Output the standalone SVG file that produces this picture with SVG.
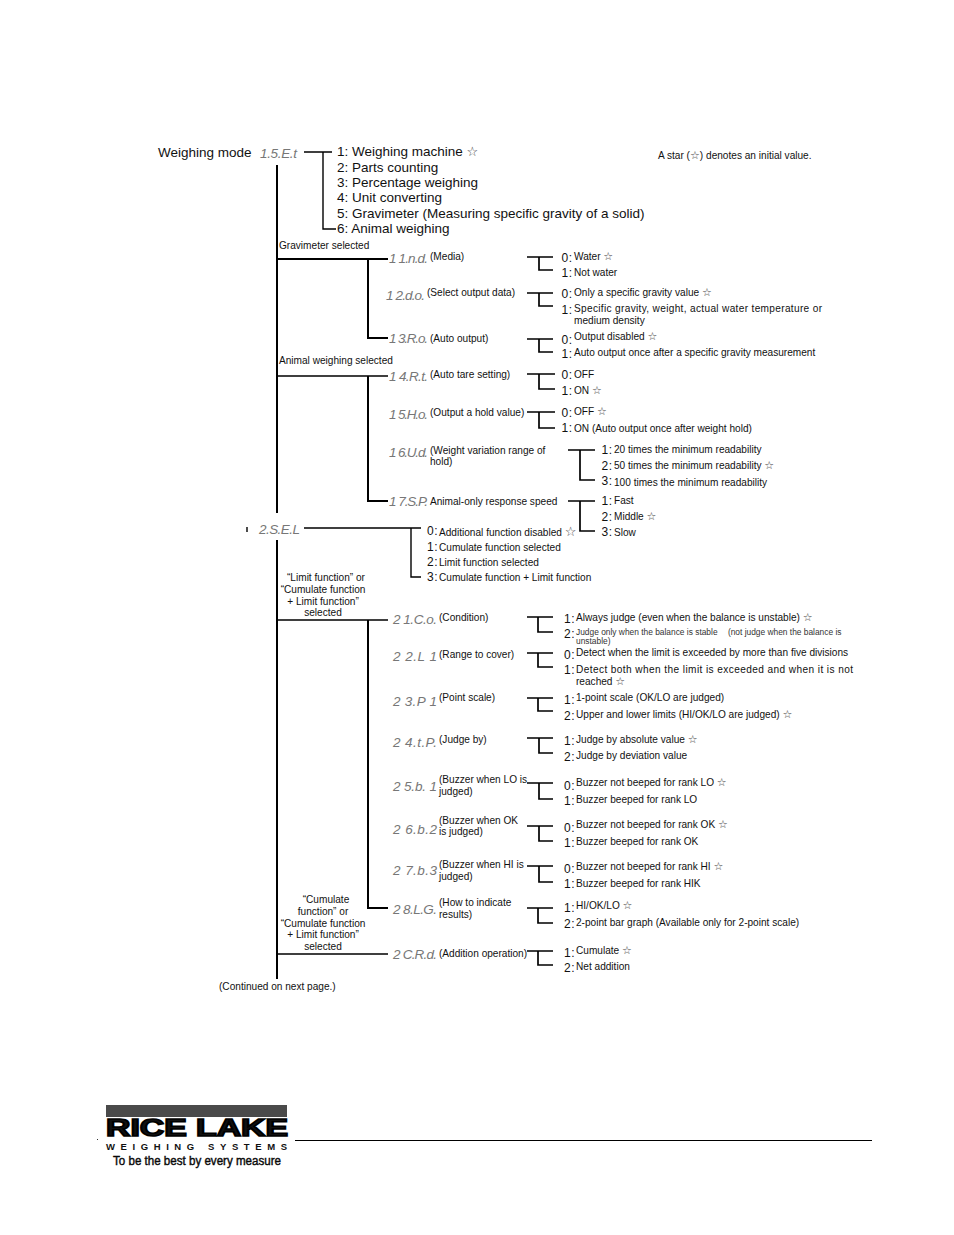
<svg xmlns="http://www.w3.org/2000/svg" width="954" height="1235" viewBox="0 0 954 1235">
<style>
text{font-family:"Liberation Sans",Arial,sans-serif;fill:#111}
.big{font-size:13.5px}
.t{font-size:10.1px}
.s{font-size:8.4px;fill:#333}
.n{font-size:12px;letter-spacing:.5px}
.c{font-family:"Liberation Sans",sans-serif;font-size:13.5px;font-style:italic;fill:#777}
.st{font-family:"DejaVu Sans",sans-serif;fill:#444;font-size:11px}
.w{fill:none;stroke:#000;stroke-width:1.4}
.m{fill:none;stroke:#000;stroke-width:2}
.b{fill:none;stroke:#000;stroke-width:1.7}
</style>
<rect width="954" height="1235" fill="#fff"/>
<g id="connectors">
<path class="m" d="M277 165V513M277 540V979M278 259H388M368 259V338H388M368 376V501H388M368 620V908H388"/>
<path class="w" d="M304 152H332M323 152V229H336M304 528H421M411 528V577H421M277 954H388M277 376H388M277 620H388M247 527V532"/>
<path class="b" d="M527 257H553M539 257V270H553M527 293H553M539 293V306H553M527 339H553M539 339V352H553M527 374H555M539 374V389H555M527 412H555M539 412V428H555M568 450H595M580 450V480H595M568 501H595M580 501V531H595"/>
<path class="b" d="M527 617H553M538 617V632H553M527 653H553M538 653V667H553M527 698H553M538 698V711H553M527 738H553M539 738V753H553M527 783H553M539 783V799H553M527 826H553M539 826V841H553M527 866H553M539 866V882H553M527 908H553M538 908V923H553M527 951H553M538 951V965H553"/>
</g>
<g id="mode"><text class="big" x="158" y="157">Weighing mode</text><text class="c" x="260" y="158" textLength="37">1.5.E.t</text></g>
<g id="mode-options">
<text class="big" x="337" y="156">1: Weighing machine <tspan class="st" style="font-size:13px">☆</tspan></text>
<text class="big" x="337" y="172">2: Parts counting</text>
<text class="big" x="337" y="187">3: Percentage weighing</text>
<text class="big" x="337" y="202">4: Unit converting</text>
<text class="big" x="337" y="218">5: Gravimeter (Measuring specific gravity of a solid)</text>
<text class="big" x="337" y="233">6: Animal weighing</text>
</g>
<g id="note"><text class="t" x="658" y="159">A star (<tspan class="st">☆</tspan>) denotes an initial value.</text></g>
<g id="branch-labels">
<text class="t" x="279" y="249">Gravimeter selected</text>
<text class="t" x="279" y="364">Animal weighing selected</text>
<g text-anchor="middle"><text class="t" x="326" y="581">“Limit function” or</text><text class="t" x="323" y="593">“Cumulate function</text><text class="t" x="323" y="605">+ Limit function”</text><text class="t" x="323" y="616">selected</text>
<text class="t" x="326" y="903">“Cumulate</text><text class="t" x="323" y="915">function” or</text><text class="t" x="323" y="927">“Cumulate function</text><text class="t" x="323" y="938">+ Limit function”</text><text class="t" x="323" y="950">selected</text></g>
<text class="t" x="219" y="990">(Continued on next page.)</text>
</g>
<g id="n11"><text class="c" x="389" y="263" textLength="39">1 1.n.d.</text><text class="t" x="430" y="260">(Media)</text></g>
<g id="n12"><text class="c" x="386" y="300" textLength="39">1 2.d.o.</text><text class="t" x="427" y="296">(Select output data)</text></g>
<g id="n13"><text class="c" x="389" y="343" textLength="39">1 3.R.o.</text><text class="t" x="430" y="342">(Auto output)</text></g>
<g id="n14"><text class="c" x="389" y="381" textLength="39">1 4.R.t.</text><text class="t" x="430" y="378">(Auto tare setting)</text></g>
<g id="n15"><text class="c" x="389" y="419" textLength="39">1 5.H.o.</text><text class="t" x="430" y="416">(Output a hold value)</text></g>
<g id="n16"><text class="c" x="389" y="457" textLength="39">1 6.U.d.</text><text class="t" x="430" y="454">(Weight variation range of</text><text class="t" x="430" y="465">hold)</text></g>
<g id="n17"><text class="c" x="389" y="506" textLength="39">1 7.S.P.</text><text class="t" x="430" y="505">Animal-only response speed</text></g>
<g id="n2"><text class="c" x="259" y="534" textLength="41">2.S.E.L</text></g>
<g id="n21"><text class="c" x="393" y="624" textLength="44">2 1.C.o.</text><text class="t" x="439" y="621">(Condition)</text></g>
<g id="n22"><text class="c" x="393" y="661" textLength="44">2 2.L 1</text><text class="t" x="439" y="658">(Range to cover)</text></g>
<g id="n23"><text class="c" x="393" y="706" textLength="44">2 3.P 1</text><text class="t" x="439" y="701">(Point scale)</text></g>
<g id="n24"><text class="c" x="393" y="747" textLength="44">2 4.t.P.</text><text class="t" x="439" y="743">(Judge by)</text></g>
<g id="n25"><text class="c" x="393" y="791" textLength="44">2 5.b. 1</text><text class="t" x="439" y="783">(Buzzer when LO is</text><text class="t" x="439" y="795">judged)</text></g>
<g id="n26"><text class="c" x="393" y="834" textLength="44">2 6.b.2</text><text class="t" x="439" y="824">(Buzzer when OK</text><text class="t" x="439" y="835">is judged)</text></g>
<g id="n27"><text class="c" x="393" y="875" textLength="44">2 7.b.3</text><text class="t" x="439" y="868">(Buzzer when HI is</text><text class="t" x="439" y="880">judged)</text></g>
<g id="n28"><text class="c" x="393" y="914" textLength="44">2 8.L.G.</text><text class="t" x="439" y="906">(How to indicate</text><text class="t" x="439" y="918">results)</text></g>
<g id="n2c"><text class="c" x="393" y="959" textLength="44">2 C.R.d.</text><text class="t" x="439" y="957">(Addition operation)</text></g>
<g id="values-1">
<text class="n" x="561.500" y="262">0:</text><text class="t" x="574" y="260">Water <tspan class="st">☆</tspan></text>
<text class="n" x="561.500" y="277">1:</text><text class="t" x="574" y="276">Not water</text>
<text class="n" x="561.500" y="298">0:</text><text class="t" x="574" y="296">Only a specific gravity value <tspan class="st">☆</tspan></text>
<text class="n" x="561.500" y="314">1:</text><text class="t" x="574" y="312" textLength="248">Specific gravity, weight, actual water temperature or</text><text class="t" x="574" y="324">medium density</text>
<text class="n" x="561.500" y="344">0:</text><text class="t" x="574" y="340">Output disabled <tspan class="st">☆</tspan></text>
<text class="n" x="561.500" y="358">1:</text><text class="t" x="574" y="356">Auto output once after a specific gravity measurement</text>
<text class="n" x="561.500" y="379">0:</text><text class="t" x="574" y="378">OFF</text>
<text class="n" x="561.500" y="395">1:</text><text class="t" x="574" y="394">ON <tspan class="st">☆</tspan></text>
<text class="n" x="561.500" y="417">0:</text><text class="t" x="574" y="415">OFF <tspan class="st">☆</tspan></text>
<text class="n" x="561.500" y="432">1:</text><text class="t" x="574" y="432">ON (Auto output once after weight hold)</text>
<text class="n" x="601.500" y="454">1:</text><text class="t" x="614" y="453">20 times the minimum readability</text>
<text class="n" x="601.500" y="470">2:</text><text class="t" x="614" y="469">50 times the minimum readability <tspan class="st">☆</tspan></text>
<text class="n" x="601.500" y="485">3:</text><text class="t" x="614" y="486">100 times the minimum readability</text>
<text class="n" x="601.500" y="505">1:</text><text class="t" x="614" y="504">Fast</text>
<text class="n" x="601.500" y="521">2:</text><text class="t" x="614" y="520">Middle <tspan class="st">☆</tspan></text>
<text class="n" x="601.500" y="536">3:</text><text class="t" x="614" y="536">Slow</text>
</g>
<g id="values-2">
<text class="n" x="427" y="535">0:</text><text class="t" x="439" y="536">Additional function disabled <tspan class="st" style="font-size:13px">☆</tspan></text>
<text class="n" x="427" y="551">1:</text><text class="t" x="439" y="551">Cumulate function selected</text>
<text class="n" x="427" y="566">2:</text><text class="t" x="439" y="566">Limit function selected</text>
<text class="n" x="427" y="581">3:</text><text class="t" x="439" y="581">Cumulate function + Limit function</text>
</g>
<g id="values-3">
<text class="n" x="564" y="623">1:</text><text class="t" x="576" y="621">Always judge (even when the balance is unstable) <tspan class="st">☆</tspan></text>
<text class="n" x="564" y="638">2:</text><text class="s" x="576" y="635">Judge only when the balance is stable <tspan dx="8">(not judge when the balance is</tspan></text><text class="s" x="576" y="644">unstable)</text>
<text class="n" x="564" y="659">0:</text><text class="t" x="576" y="656">Detect when the limit is exceeded by more than five divisions</text>
<text class="n" x="564" y="674">1:</text><text class="t" x="576" y="673" textLength="277">Detect both when the limit is exceeded and when it is not</text><text class="t" x="576" y="685">reached <tspan class="st">☆</tspan></text>
<text class="n" x="564" y="704">1:</text><text class="t" x="576" y="701">1-point scale (OK/LO are judged)</text>
<text class="n" x="564" y="720">2:</text><text class="t" x="576" y="718">Upper and lower limits (HI/OK/LO are judged) <tspan class="st">☆</tspan></text>
<text class="n" x="564" y="745">1:</text><text class="t" x="576" y="743">Judge by absolute value <tspan class="st">☆</tspan></text>
<text class="n" x="564" y="761">2:</text><text class="t" x="576" y="759">Judge by deviation value</text>
<text class="n" x="564" y="790">0:</text><text class="t" x="576" y="786">Buzzer not beeped for rank LO <tspan class="st">☆</tspan></text>
<text class="n" x="564" y="805">1:</text><text class="t" x="576" y="803">Buzzer beeped for rank LO</text>
<text class="n" x="564" y="832">0:</text><text class="t" x="576" y="828">Buzzer not beeped for rank OK <tspan class="st">☆</tspan></text>
<text class="n" x="564" y="847">1:</text><text class="t" x="576" y="845">Buzzer beeped for rank OK</text>
<text class="n" x="564" y="873">0:</text><text class="t" x="576" y="870">Buzzer not beeped for rank HI <tspan class="st">☆</tspan></text>
<text class="n" x="564" y="888">1:</text><text class="t" x="576" y="887">Buzzer beeped for rank HIK</text>
<text class="n" x="564" y="912">1:</text><text class="t" x="576" y="909">HI/OK/LO <tspan class="st">☆</tspan></text>
<text class="n" x="564" y="928">2:</text><text class="t" x="576" y="926">2-point bar graph (Available only for 2-point scale)</text>
<text class="n" x="564" y="957">1:</text><text class="t" x="576" y="954">Cumulate <tspan class="st">☆</tspan></text>
<text class="n" x="564" y="972">2:</text><text class="t" x="576" y="970">Net addition</text>
</g>
<g id="logo">
<rect x="106" y="1105" width="181" height="12" fill="#4a4a4a"/>
<text x="106" y="1136" font-size="23" font-weight="700" stroke="#000" stroke-width="1.6" textLength="182" lengthAdjust="spacingAndGlyphs">RICE LAKE</text>
<text x="106" y="1150" font-size="9.500" font-weight="700" textLength="181" lengthAdjust="spacing">WEIGHING SYSTEMS</text>
<text x="113" y="1165" font-size="12.500" stroke="#000" stroke-width=".4" textLength="168" lengthAdjust="spacingAndGlyphs">To be the best by every measure</text>
<rect x="97" y="1139" width="1" height="1" fill="#333"/>
</g>
<path id="footer-rule" d="M295 1140.500H872" stroke="#000" fill="none"/>
</svg>
